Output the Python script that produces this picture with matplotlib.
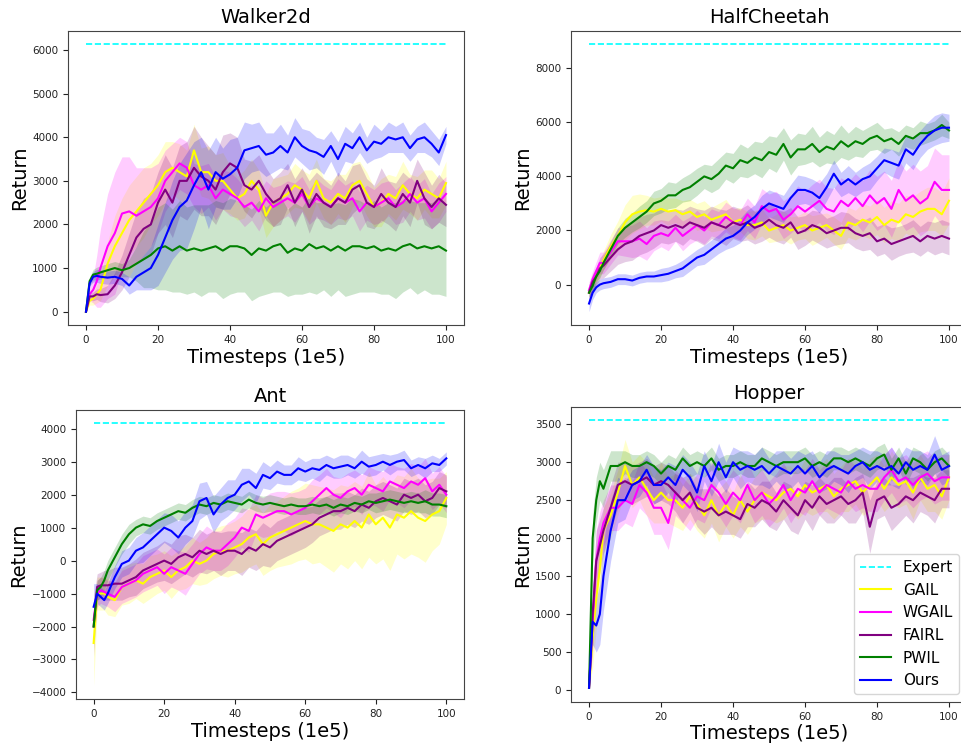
import numpy as np
import matplotlib.pyplot as plt
from matplotlib.ticker import MultipleLocator

# timesteps (1e5)
steps = [0, 1, 2, 3] + list(range(4, 101, 2))

names = ['GAIL', 'WGAIL', 'FAIRL', 'PWIL', 'Ours']
colors = ['yellow', 'magenta', 'purple', 'green', 'blue']
expert_color = 'cyan'

# ---------------- Walker2d ----------------
walker_expert = 6130
walker_gail = [0, 250, 300, 400, 500, 1100, 1500, 1800, 2100, 2300,
               2500, 2700, 2900, 3200, 3300, 3200, 3100, 3700, 3200, 3200,
               3000, 3000, 2800, 2600, 2700, 3000, 2800, 2200, 2500, 2600,
               2700, 2900, 2800, 2600, 3000, 2600, 2500, 2700, 2600, 2900,
               3000, 2700, 2400, 2500, 2700, 2600, 2900, 2700, 2600, 2800,
               2700, 2600, 2950]
walker_gail_sd = [0, 100, 150, 200, 250, 500, 700, 800, 800, 800,
                  800, 700, 700, 700, 600, 650, 600, 600, 550, 600,
                  600, 650, 550, 500, 550, 500, 450, 500, 550, 500,
                  450, 500, 450, 550, 500, 450, 500, 450, 550, 500,
                  450, 500, 450, 550, 450, 500, 550, 450, 500, 450,
                  550, 450, 500]
walker_wgail = [0, 400, 500, 700, 1000, 1500, 1800, 2250, 2300, 2200,
                2300, 2400, 2600, 3000, 3200, 3400, 3300, 2900, 2800, 2900,
                2600, 2800, 2700, 2600, 2400, 2500, 2300, 2600, 2400, 2500,
                2600, 2500, 2700, 2400, 2600, 2500, 2400, 2600, 2500, 2600,
                2300, 2500, 2400, 2500, 2600, 2400, 2500, 2700, 2500, 2600,
                2300, 2500, 2700]
walker_wgail_sd = [0, 150, 300, 600, 900, 1200, 1400, 1300, 1250, 1100,
                   1000, 900, 800, 700, 650, 600, 600, 500, 550, 500,
                   500, 450, 500, 450, 450, 400, 450, 400, 450, 400,
                   400, 450, 400, 400, 450, 400, 400, 450, 400, 400,
                   450, 400, 400, 450, 400, 400, 450, 400, 400, 450,
                   400, 450, 400]
walker_fairl = [0, 350, 350, 400, 380, 400, 600, 900, 1300, 1700,
                1900, 2000, 2500, 2800, 2500, 3000, 3000, 3300, 3100, 3000,
                2800, 3200, 3400, 3300, 2900, 2800, 3000, 2700, 2500, 2600,
                2900, 2500, 2800, 2400, 2700, 2500, 2400, 2600, 2500, 2800,
                2900, 2500, 2400, 2700, 2500, 2400, 2700, 2500, 3000, 2600,
                2400, 2600, 2450]
walker_fairl_sd = [0, 80, 100, 120, 150, 200, 300, 400, 500, 600,
                   700, 700, 700, 800, 800, 800, 900, 950, 900, 800,
                   800, 850, 700, 700, 600, 650, 600, 600, 550, 600,
                   500, 550, 500, 600, 500, 550, 500, 600, 500, 550,
                   500, 550, 500, 600, 500, 550, 500, 550, 500, 600,
                   500, 550, 500]
walker_pwil = [0, 700, 850, 870, 900, 950, 1000, 950, 1000, 1100,
               1200, 1300, 1450, 1500, 1400, 1500, 1400, 1450, 1400, 1450,
               1500, 1400, 1500, 1500, 1450, 1300, 1450, 1400, 1500, 1550,
               1350, 1450, 1400, 1550, 1450, 1500, 1400, 1500, 1400, 1500,
               1500, 1450, 1500, 1400, 1450, 1400, 1500, 1550, 1450, 1500,
               1450, 1500, 1400]
walker_pwil_sd = [0, 100, 120, 150, 150, 150, 150, 150, 200, 400,
                  650, 750, 950, 1000, 950, 1050, 1000, 1000, 1050, 1000,
                  1050, 1100, 1100, 1050, 1000, 1050, 1100, 1000, 1050, 1100,
                  1000, 1050, 1000, 1100, 1050, 1000, 1050, 1000, 1050, 1100,
                  1050, 1000, 1050, 1000, 1050, 1100, 1050, 1000, 1050, 1000,
                  1050, 1100, 1050]
walker_ours = [0, 650, 800, 820, 800, 780, 800, 750, 600, 800,
               900, 1000, 1300, 1700, 2100, 2400, 2550, 2900, 3200, 2800,
               3200, 3050, 3150, 3300, 3700, 3750, 3800, 3600, 3650, 3800,
               3650, 4000, 3800, 3700, 3650, 3550, 3800, 3500, 3850, 3750,
               4000, 3700, 3900, 3850, 4000, 3950, 4000, 3750, 3950, 4000,
               3850, 3650, 4050]
walker_ours_sd = [0, 60, 120, 150, 150, 150, 150, 150, 200, 300,
                  400, 500, 700, 800, 900, 1000, 1100, 1000, 800, 900,
                  800, 700, 800, 700, 650, 550, 550, 500, 450, 500,
                  400, 450, 400, 450, 350, 400, 350, 400, 400, 350,
                  350, 300, 400, 300, 350, 300, 350, 300, 300, 350,
                  300, 300, 200]

# ---------------- HalfCheetah ----------------
cheetah_expert = 8880
cheetah_gail = [-300, 0, 300, 600, 900, 1400, 1800, 2300, 2600, 2700,
                2750, 2700, 2800, 2700, 2750, 2600, 2700, 2500, 2600, 2400,
                2500, 2600, 2300, 2400, 2200, 2200, 2300, 2000, 2100, 2200,
                2000, 2100, 2200, 2000, 2100, 2200, 2000, 1800, 2300, 2200,
                2400, 2300, 2500, 2200, 2400, 2300, 2600, 2500, 2700, 2800,
                2800, 2600, 3100]
cheetah_gail_sd = [200, 200, 250, 300, 350, 450, 550, 650, 700, 650,
                   550, 500, 450, 500, 450, 500, 450, 500, 500, 450,
                   500, 550, 500, 450, 500, 550, 500, 450, 500, 550,
                   500, 450, 500, 550, 500, 450, 500, 500, 550, 550,
                   600, 600, 650, 650, 700, 700, 700, 750, 750, 800,
                   800, 800, 850]
cheetah_wgail = [-200, 200, 500, 800, 800, 1200, 1600, 1600, 1600, 1700,
                 1500, 1800, 1900, 1800, 2100, 1800, 2000, 2200, 2000, 2300,
                 2200, 2500, 2300, 2200, 2600, 2300, 2900, 2700, 2800, 2400,
                 2600, 2900, 2700, 2900, 3100, 2800, 2700, 3100, 2900, 3200,
                 2900, 3300, 3000, 3200, 2800, 3500, 3100, 3300, 3000, 3200,
                 3800, 3500, 3500]
cheetah_wgail_sd = [300, 300, 350, 400, 400, 450, 500, 550, 600, 650,
                    600, 550, 500, 550, 500, 550, 500, 550, 500, 500,
                    500, 550, 550, 550, 600, 600, 650, 650, 650, 700,
                    700, 750, 750, 800, 800, 800, 850, 850, 900, 900,
                    950, 950, 1000, 1000, 1050, 1100, 1100, 1150, 1200, 1200,
                    1250, 1300, 1300]
cheetah_fairl = [-300, 100, 300, 600, 700, 1000, 1300, 1500, 1600, 1800,
                 1900, 2000, 2200, 2100, 2200, 2100, 2300, 2200, 2100, 2300,
                 2200, 2100, 2300, 2200, 2300, 2100, 2200, 2400, 2200, 2100,
                 2300, 1900, 2000, 2200, 2100, 1900, 2000, 2100, 2100, 1900,
                 1800, 1900, 1600, 1700, 1500, 1600, 1700, 1800, 1600, 1800,
                 1700, 1800, 1700]
cheetah_fairl_sd = [300, 300, 350, 400, 450, 500, 550, 650, 700, 700,
                    700, 650, 650, 600, 600, 650, 600, 600, 650, 600,
                    600, 650, 600, 600, 650, 600, 600, 650, 600, 600,
                    550, 600, 550, 550, 600, 550, 550, 600, 550, 550,
                    550, 600, 550, 550, 600, 550, 550, 600, 550, 550,
                    600, 600, 600]
cheetah_pwil = [-300, -50, 300, 500, 800, 1300, 1800, 2100, 2300, 2500,
                2700, 3000, 3100, 3300, 3300, 3500, 3600, 3800, 4000, 3900,
                4100, 4400, 4300, 4600, 4500, 4700, 4600, 4900, 4800, 5200,
                4700, 5000, 5000, 5200, 4900, 5100, 5000, 5300, 5100, 5300,
                5200, 5400, 5500, 5300, 5400, 5200, 5500, 5400, 5600, 5600,
                5700, 5900, 5700]
cheetah_pwil_sd = [150, 200, 200, 250, 250, 300, 300, 350, 350, 400,
                   400, 450, 450, 500, 450, 450, 500, 500, 450, 500,
                   550, 500, 550, 600, 550, 600, 650, 600, 650, 600,
                   650, 600, 550, 650, 550, 600, 550, 600, 500, 550,
                   500, 450, 500, 450, 400, 450, 400, 400, 450, 350,
                   350, 400, 300]
cheetah_ours = [-700, -300, -100, 0, 50, 100, 200, 200, 150, 250,
                300, 300, 350, 400, 500, 600, 800, 1000, 1100, 1300,
                1500, 1700, 1800, 2000, 2300, 2500, 2800, 3000, 2900, 2800,
                3200, 3500, 3500, 3400, 3200, 3600, 4100, 3700, 3900, 3700,
                3900, 4000, 4300, 4600, 4500, 4400, 5000, 4800, 5200, 5500,
                5700, 5800, 5800]
cheetah_ours_sd = [300, 250, 200, 200, 200, 200, 200, 200, 200, 200,
                   200, 200, 250, 250, 250, 300, 300, 300, 350, 350,
                   350, 400, 400, 450, 450, 450, 500, 500, 500, 500,
                   500, 550, 500, 500, 550, 500, 500, 450, 500, 450,
                   450, 500, 450, 450, 500, 500, 500, 550, 500, 500,
                   550, 550, 500]

# ---------------- Ant ----------------
ant_expert = 4170
ant_gail = [-2500, -1000, -1000, -1000, -1100, -1200, -800, -700, -600, -700,
            -500, -400, -300, -500, -300, -200, 0, -100, 0, 200,
            300, 300, 400, 500, 700, 800, 500, 700, 800, 900,
            1000, 1100, 1200, 1100, 1100, 1000, 900, 1100, 1000, 1200,
            1000, 1400, 1100, 1300, 1000, 1400, 1300, 1500, 1300, 1200,
            1400, 1500, 1900]
ant_gail_sd = [1300, 500, 500, 500, 550, 500, 550, 600, 550, 600,
               650, 600, 600, 650, 600, 650, 700, 650, 700, 750,
               750, 800, 800, 850, 900, 900, 950, 1000, 1000, 1050,
               1100, 1100, 1150, 1200, 1150, 1200, 1250, 1200, 1250, 1200,
               1250, 1300, 1200, 1250, 1300, 1200, 1250, 1300, 1200, 1250,
               1100, 1000, 800]
ant_wgail = [-1800, -1000, -900, -950, -1000, -1100, -800, -700, -600, -400,
             -300, -200, -400, -200, -300, -400, -100, 200, 400, 300,
             300, 500, 700, 1000, 900, 1400, 1300, 1400, 1500, 1500,
             1400, 1500, 1600, 1800, 2000, 2200, 2000, 1900, 2100, 2200,
             2000, 2300, 2200, 2100, 2400, 2300, 2200, 2400, 2300, 2500,
             2100, 2300, 2000]
ant_wgail_sd = [500, 400, 400, 400, 400, 450, 500, 500, 500, 550,
                550, 550, 600, 600, 600, 650, 600, 600, 650, 600,
                600, 650, 600, 600, 650, 600, 600, 650, 600, 600,
                650, 600, 600, 650, 600, 600, 550, 600, 550, 550,
                600, 550, 550, 600, 550, 550, 600, 550, 550, 600,
                550, 550, 550]
ant_fairl = [-2000, -800, -750, -750, -750, -700, -700, -600, -500, -300,
             -200, -100, 0, -100, 100, 200, 100, 300, 200, 300,
             200, 300, 300, 200, 400, 300, 500, 400, 600, 700,
             800, 900, 1000, 1100, 1300, 1400, 1500, 1500, 1600, 1500,
             1700, 1600, 1800, 1900, 1800, 1700, 2000, 1900, 2000, 1800,
             1900, 2200, 2100]
ant_fairl_sd = [900, 400, 400, 450, 450, 500, 500, 500, 550, 550,
                550, 550, 600, 600, 650, 600, 600, 650, 600, 600,
                650, 600, 600, 650, 600, 600, 650, 600, 600, 600,
                600, 600, 600, 550, 550, 550, 550, 550, 500, 500,
                500, 500, 500, 500, 500, 500, 500, 500, 500, 500,
                500, 500, 500]
ant_pwil = [-2000, -900, -800, -600, -300, 100, 500, 800, 1000, 1100,
            1050, 1200, 1300, 1400, 1500, 1450, 1600, 1700, 1650, 1750,
            1700, 1800, 1750, 1700, 1850, 1750, 1700, 1750, 1700, 1650,
            1700, 1650, 1650, 1700, 1650, 1700, 1600, 1700, 1650, 1750,
            1700, 1800, 1750, 1800, 1850, 1800, 1750, 1800, 1750, 1800,
            1700, 1700, 1650]
ant_pwil_sd = [400, 300, 300, 300, 300, 300, 300, 300, 250, 250,
               250, 250, 250, 250, 250, 250, 250, 250, 250, 250,
               250, 250, 250, 250, 250, 250, 250, 250, 250, 250,
               250, 250, 250, 250, 250, 250, 250, 250, 250, 250,
               250, 250, 300, 300, 300, 300, 300, 300, 300, 350,
               350, 350, 350]
ant_ours = [-1400, -1000, -1100, -1200, -1000, -500, -100, 0, 300, 400,
            600, 800, 1000, 900, 700, 1000, 1200, 1800, 1900, 1400,
            1700, 1900, 2000, 2300, 2400, 2200, 2600, 2500, 2700, 2600,
            2600, 2800, 2700, 2800, 2750, 2900, 2800, 2850, 2900, 2800,
            3000, 2850, 2900, 3000, 2900, 3000, 3050, 2800, 2900, 2800,
            2950, 2900, 3100]
ant_ours_sd = [700, 300, 300, 300, 300, 350, 400, 400, 400, 450,
               450, 450, 450, 500, 500, 500, 500, 550, 500, 550,
               500, 550, 450, 500, 400, 450, 400, 350, 350, 300,
               300, 350, 300, 300, 350, 300, 300, 350, 300, 300,
               350, 300, 300, 250, 300, 250, 300, 250, 250, 300,
               250, 200, 200]

# ---------------- Hopper ----------------
hopper_expert = 3550
hopper_gail = [30, 700, 1200, 1600, 2100, 2300, 2600, 2950, 2700, 2800,
               2650, 2500, 2600, 2500, 2500, 2400, 2550, 2450, 2300, 2500,
               2300, 2450, 2300, 2500, 2350, 2500, 2600, 2550, 2500, 2600,
               2650, 2550, 2700, 2600, 2650, 2700, 2550, 2650, 2700, 2750,
               2600, 2700, 2800, 2650, 2800, 2700, 2750, 2600, 2800, 2650,
               2700, 2550, 2800]
hopper_gail_sd = [10, 400, 400, 350, 300, 300, 300, 350, 300, 300,
                  350, 300, 400, 300, 350, 300, 300, 350, 300, 300,
                  350, 300, 300, 350, 300, 300, 350, 300, 300, 350,
                  300, 300, 350, 300, 300, 350, 300, 300, 350, 300,
                  300, 350, 300, 300, 350, 300, 300, 350, 300, 300,
                  350, 300, 300]
hopper_wgail = [30, 900, 1700, 2000, 2200, 2400, 2400, 2500, 2450, 2700,
                2600, 2400, 2400, 2200, 2600, 2500, 2400, 2550, 2500, 2700,
                2600, 2450, 2600, 2500, 2700, 2500, 2600, 2450, 2550, 2700,
                2500, 2650, 2600, 2750, 2600, 2700, 2650, 2600, 2750, 2650,
                2700, 2650, 2650, 2800, 2900, 2750, 2800, 2700, 2800, 2850,
                2750, 2800, 2800]
hopper_wgail_sd = [10, 400, 400, 350, 300, 300, 300, 300, 300, 300,
                   300, 350, 350, 350, 300, 300, 300, 300, 300, 300,
                   300, 300, 300, 300, 300, 300, 300, 300, 300, 300,
                   300, 300, 300, 300, 300, 300, 300, 300, 300, 300,
                   300, 300, 300, 300, 300, 300, 300, 300, 300, 300,
                   300, 300, 300]
hopper_fairl = [30, 1000, 1700, 1900, 2100, 2400, 2700, 2750, 2700, 2750,
                2800, 2700, 2750, 2700, 2600, 2500, 2600, 2400, 2350, 2400,
                2300, 2350, 2300, 2250, 2450, 2400, 2500, 2450, 2350, 2500,
                2400, 2300, 2500, 2400, 2550, 2450, 2500, 2550, 2450, 2500,
                2600, 2150, 2500, 2550, 2400, 2450, 2550, 2500, 2600, 2550,
                2500, 2650, 2650]
hopper_fairl_sd = [10, 400, 400, 350, 300, 300, 300, 250, 250, 250,
                   250, 250, 250, 250, 250, 300, 250, 250, 300, 250,
                   250, 300, 250, 250, 300, 250, 250, 300, 250, 250,
                   300, 250, 250, 300, 250, 250, 300, 250, 250, 300,
                   250, 350, 250, 250, 300, 250, 250, 300, 250, 250,
                   300, 250, 250]
hopper_pwil = [30, 2000, 2500, 2750, 2650, 2950, 2950, 3000, 2950, 2950,
               3000, 2950, 2850, 2950, 2900, 3050, 2950, 3000, 2950, 3050,
               2900, 2950, 2950, 3000, 2950, 2950, 3050, 3000, 2950, 3000,
               3000, 3000, 3050, 2950, 3000, 2950, 3050, 3050, 3000, 3050,
               3000, 2950, 3050, 3100, 2900, 3050, 2850, 3050, 3000, 2900,
               3000, 3050, 2950]
hopper_pwil_sd = [10, 300, 300, 250, 250, 200, 200, 150, 150, 150,
                  150, 150, 150, 150, 150, 150, 150, 150, 150, 150,
                  150, 150, 150, 150, 150, 150, 150, 150, 150, 150,
                  150, 150, 150, 150, 150, 150, 150, 150, 150, 150,
                  150, 150, 150, 150, 150, 150, 150, 150, 150, 150,
                  150, 150, 150]
hopper_ours = [30, 900, 850, 1000, 1500, 2100, 2500, 2500, 2700, 2750,
               2900, 2700, 2700, 2800, 2700, 2900, 2800, 2600, 2950, 2750,
               3000, 2800, 3000, 2900, 2950, 2900, 2950, 2850, 2950, 2900,
               2850, 2950, 2850, 2950, 2800, 2900, 2950, 2900, 2850, 2950,
               3000, 2900, 2950, 2900, 2950, 2850, 3000, 2900, 2950, 2900,
               3100, 2900, 2950]
hopper_ours_sd = [10, 300, 350, 400, 450, 400, 300, 250, 200, 200,
                  200, 250, 200, 200, 250, 200, 200, 250, 200, 200,
                  250, 200, 200, 250, 200, 200, 250, 200, 200, 250,
                  200, 200, 250, 200, 200, 250, 200, 200, 250, 200,
                  200, 250, 200, 200, 250, 200, 200, 250, 200, 200,
                  250, 200, 200]

panels = [
    ('Walker2d', walker_expert,
     [(walker_gail, walker_gail_sd), (walker_wgail, walker_wgail_sd),
      (walker_fairl, walker_fairl_sd), (walker_pwil, walker_pwil_sd),
      (walker_ours, walker_ours_sd)], 1000),
    ('HalfCheetah', cheetah_expert,
     [(cheetah_gail, cheetah_gail_sd), (cheetah_wgail, cheetah_wgail_sd),
      (cheetah_fairl, cheetah_fairl_sd), (cheetah_pwil, cheetah_pwil_sd),
      (cheetah_ours, cheetah_ours_sd)], 2000),
    ('Ant', ant_expert,
     [(ant_gail, ant_gail_sd), (ant_wgail, ant_wgail_sd),
      (ant_fairl, ant_fairl_sd), (ant_pwil, ant_pwil_sd),
      (ant_ours, ant_ours_sd)], 1000),
    ('Hopper', hopper_expert,
     [(hopper_gail, hopper_gail_sd), (hopper_wgail, hopper_wgail_sd),
      (hopper_fairl, hopper_fairl_sd), (hopper_pwil, hopper_pwil_sd),
      (hopper_ours, hopper_ours_sd)], 500),
]

# axes boxes in figure fractions (left, bottom, width, height)
boxes = [
    [0.0707, 0.5655, 0.4116, 0.393],
    [0.5936, 0.5655, 0.4116, 0.393],
    [0.0790, 0.0655, 0.4033, 0.3864],
    [0.5936, 0.0615, 0.4116, 0.3944],
]

fig = plt.figure(figsize=(9.62, 7.48), dpi=100)
x = np.array(steps)

for (title, expert, series, ystep), box in zip(panels, boxes):
    ax = fig.add_axes(box)
    ax.plot([x[0], x[-1]], [expert, expert], '--', color=expert_color,
            lw=1.2, label='Expert')
    for (m, s), c, n in zip(series, colors, names):
        m = np.array(m, dtype=float)
        s = np.array(s, dtype=float)
        ax.fill_between(x, m - s, m + s, color=c, alpha=0.2, lw=0)
        ax.plot(x, m, color=c, lw=1.5, label=n)
    ax.set_title(title, fontsize=14)
    ax.set_xlabel('Timesteps (1e5)', fontsize=14, labelpad=2)
    ax.set_ylabel('Return', fontsize=14, labelpad=2)
    ax.xaxis.set_major_locator(MultipleLocator(20))
    ax.yaxis.set_major_locator(MultipleLocator(ystep))
    ax.tick_params(labelsize=7.5, colors='#222222')
    for sp in ax.spines.values():
        sp.set_color('#444444')
    if title == 'Hopper':
        ax.legend(loc='lower right', fontsize=11)

plt.savefig('out.png', dpi=100)
